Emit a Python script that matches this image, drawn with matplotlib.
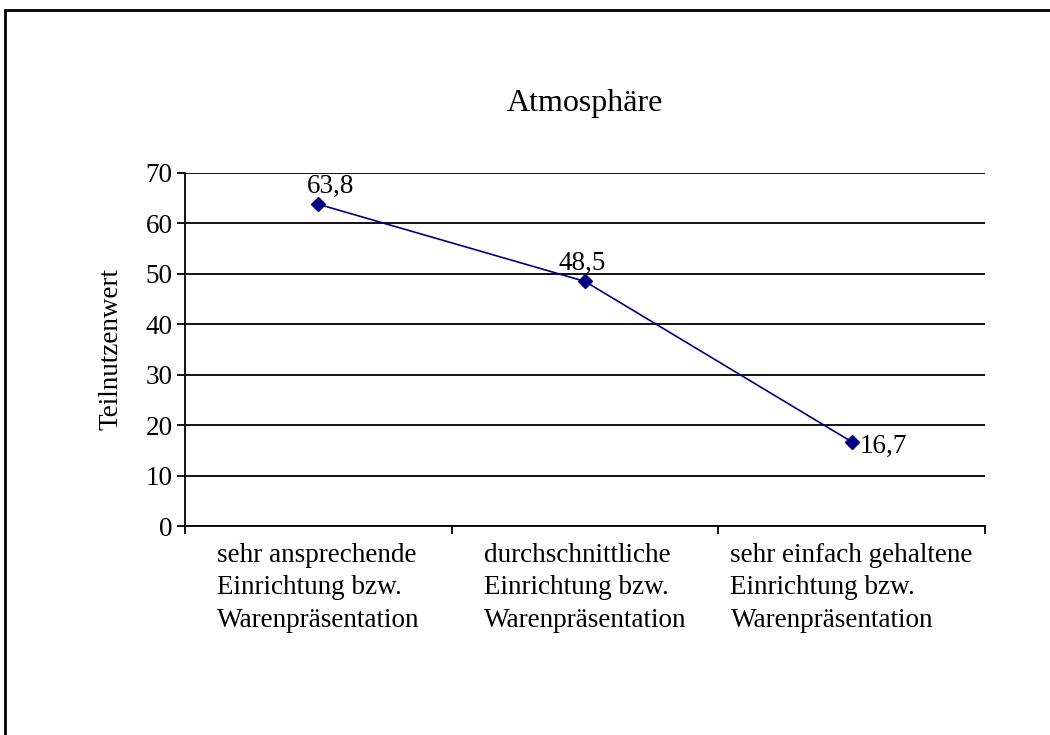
import numpy as np
import matplotlib.pyplot as plt
from matplotlib.patches import Rectangle

categories = ["sehr ansprechende\nEinrichtung bzw.\nWarenpräsentation",
              "durchschnittliche\nEinrichtung bzw.\nWarenpräsentation",
              "sehr einfach gehaltene\nEinrichtung bzw.\nWarenpräsentation"]
values = [63.8, 48.5, 16.7]
value_labels = ["63,8", "48,5", "16,7"]
yticks = [0, 10, 20, 30, 40, 50, 60, 70]

plt.rcParams['font.family'] = ['Liberation Serif', 'DejaVu Serif']
fs = 19.5

fig = plt.figure(figsize=(10.5, 7.35), dpi=100)
ax = fig.add_axes([185/1050, 1-526/735, 800/1050, 353/735])

x = np.arange(len(values))
ax.plot(x, values, color='#000080', lw=1.2, marker='D', ms=7, zorder=3)

# data labels
offsets = [(9, 4), (-2, 4), (6, -3)]
aligns = [('center', 'bottom'), ('center', 'bottom'), ('left', 'center')]
for xi, v, lab, off, al in zip(x, values, value_labels, offsets, aligns):
    ax.annotate(lab, (xi, v), xytext=off, textcoords='offset points',
                ha=al[0], va=al[1], fontsize=fs)

ax.set_xlim(-0.5, 2.5)
ax.set_ylim(0, 70)
ax.set_yticks(yticks)
ax.yaxis.grid(True, color='black', lw=1.3)
ax.set_axisbelow(True)
ax.set_xticks([-0.5, 0.5, 1.5, 2.5])
ax.set_xticklabels([])
ax.set_xticks(x, minor=True)
ax.set_xticklabels(categories, minor=True, multialignment='left', fontsize=fs,
                   linespacing=1.4)
ax.tick_params(axis='x', which='minor', length=0, pad=12)
ax.tick_params(axis='x', which='major', length=6, width=1.3, direction='out')
ax.tick_params(axis='y', length=6, width=1.3, labelsize=fs, pad=3)
for s in ['top', 'right']:
    ax.spines[s].set_visible(False)
for s in ['left', 'bottom']:
    ax.spines[s].set_linewidth(1.3)

ax.set_ylabel("Teilnutzenwert", fontsize=fs, labelpad=16)
ax.set_title("Atmosphäre", fontsize=23, pad=45)

fig.patches.append(Rectangle((5/1050, -0.1), 1.2, 1-10/735+0.1, transform=fig.transFigure,
                             fill=False, edgecolor='black', lw=2))

fig.savefig("out.png", dpi=100)
